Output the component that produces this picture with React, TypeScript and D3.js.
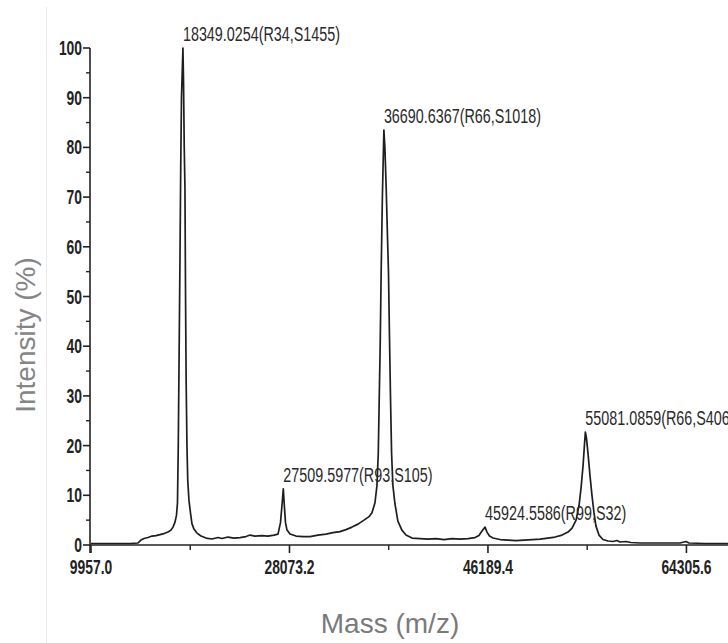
import React from "react";
import * as d3 from "d3";

// Deconvoluted mass spectrum: mass (Da) vs relative intensity (%)
const massValues = [
  9957, 11691, 13517, 14247, 14521, 14794, 15160, 15525, 15890, 16255, 16620, 16985, 17259, 17441,
  17624, 17760, 17851, 17924, 18006, 18080, 18143, 18216, 18349, 18404, 18468, 18532, 18587, 18642,
  18715, 18788, 18897, 19034, 19171, 19354, 19632, 19997, 20453, 21001, 21548, 21913, 22461, 23009,
  23556, 24104, 24469, 24926, 25564, 26112, 26660, 27025, 27253, 27390, 27510, 27601, 27710, 27847,
  28121, 28668, 29307, 29946, 30676, 31406, 32045, 32683, 33231, 33779, 34327, 34875, 35331, 35604,
  35878, 36060, 36179, 36270, 36352, 36443, 36553, 36691, 36782, 36900, 37019, 37110, 37201, 37292,
  37393, 37511, 37694, 37968, 38333, 38708, 39255, 39985, 40715, 41445, 42175, 42906, 43636, 44366,
  45005, 45370, 45644, 45925, 46102, 46330, 46650, 47295, 48025, 48755, 49486, 50216, 50946, 51667,
  52315, 52954, 53502, 53867, 54232, 54506, 54688, 54871, 55008, 55081, 55182, 55319, 55501, 55684,
  55867, 56049, 56323, 56688, 57144, 57600, 57965, 58239, 58787, 59243, 60064, 61890, 63716, 64264,
  64537, 65997, 68097,
];

const intensityValues = [
  0.3, 0.3, 0.3, 0.4, 1.0, 1.3, 1.5, 1.8, 1.9, 2.1, 2.3, 2.6, 3.0, 3.6,
  4.6, 6.0, 8.5, 20, 40, 58, 75, 90, 100, 93, 80, 72, 50, 33,
  20, 13, 9, 6.5, 4.3, 3.2, 2.4, 1.8, 1.4, 1.2, 1.5, 1.3, 1.6, 1.4,
  1.5, 1.7, 2.0, 1.8, 1.9, 1.8, 2.0, 2.2, 4.5, 8, 11.3, 8.0, 4.5, 3.0,
  2.2, 1.8, 1.7, 1.7, 2.0, 2.2, 2.5, 2.7, 3.1, 3.6, 4.2, 5.0, 5.7, 6.5,
  8.5, 12, 18.5, 30, 40, 55, 70, 83.5, 80, 72, 62, 55, 42, 30,
  18.5, 12, 8.4, 4.8, 3.0, 2.0, 1.4, 1.3, 1.2, 1.3, 1.1, 1.3, 1.2, 1.3,
  1.5, 1.9, 2.8, 3.6, 2.6, 1.8, 1.4, 1.1, 1.0, 0.9, 1.0, 1.1, 1.2, 1.4,
  1.6, 2.0, 2.6, 3.4, 5.0, 8.0, 11.5, 16, 20.5, 22.7, 21.5, 18.5, 14, 10,
  6.5, 3.8, 2.0, 1.1, 0.8, 0.7, 0.9, 0.6, 0.7, 0.5, 0.4, 0.4, 0.4, 0.7,
  0.4, 0.3, 0.3,
];

// Annotated peaks
const peakMasses = [18349.0254, 27509.5977, 36690.6367, 45924.5586, 55081.0859];
const peakIntensities = [100, 11.3, 83.5, 3.6, 22.7];
const peakLabels = [
  "18349.0254(R34,S1455)",
  "27509.5977(R93,S105)",
  "36690.6367(R66,S1018)",
  "45924.5586(R99,S32)",
  "55081.0859(R66,S406)",
];

// Axis ticks
const xTickValues = [9957.0, 28073.2, 46189.4, 64305.6];
const xMinorTickValues = [19015.1, 37131.3, 55247.5];
const yTickValues = [0, 10, 20, 30, 40, 50, 60, 70, 80, 90, 100];
const yMinorTickValues = [5, 15, 25, 35, 45, 55, 65, 75, 85, 95];

const W = 728;
const H = 643;

export default function App() {
  const x = d3.scaleLinear().domain([9957, 68100]).range([91, 728]);
  const y = d3.scaleLinear().domain([0, 100]).range([545, 48]);

  const points = massValues.map((m, i) => [m, intensityValues[i]] as [number, number]);
  const line = d3
    .line<[number, number]>()
    .x((d) => x(d[0]))
    .y((d) => y(d[1]))
    .curve(d3.curveLinear);

  const axisColor = "#222";
  const font = "'Liberation Sans', Arial, sans-serif";
  const narrow = 0.66;

  return (
    <svg
      width={W}
      height={H}
      viewBox={`0 0 ${W} ${H}`}
      style={{ position: "absolute", left: 0, top: 0, background: "#fff" }}
    >
      <rect x={0} y={0} width={W} height={H} fill="#fff" />
      {/* faint frame edge on the left */}
      <line x1={46.5} x2={46.5} y1={7} y2={H} stroke="#ebebeb" strokeWidth={1} />

      {/* spectrum trace */}
      <path d={line(points) || ""} fill="none" stroke="#1e1e1e" strokeWidth={1.7} strokeLinejoin="round" />

      {/* y axis */}
      <line x1={90} x2={90} y1={y(100)} y2={y(0) + 8} stroke={axisColor} strokeWidth={1.6} />
      {yTickValues.map((t) => (
        <g key={`yt${t}`}>
          <line x1={83} x2={90} y1={y(t)} y2={y(t)} stroke={axisColor} strokeWidth={1.6} />
          <text
            transform={`translate(82,${y(t) + 7}) scale(${narrow},1)`}
            textAnchor="end"
            fontFamily={font}
            fontWeight="bold"
            fontSize={21}
            fill="#222"
          >
            {t}
          </text>
        </g>
      ))}
      {yMinorTickValues.map((t) => (
        <line key={`ym${t}`} x1={86} x2={90} y1={y(t)} y2={y(t)} stroke={axisColor} strokeWidth={1.4} />
      ))}

      {/* x axis */}
      <line x1={90} x2={728} y1={y(0)} y2={y(0)} stroke={axisColor} strokeWidth={1.6} />
      {xTickValues.map((t) => (
        <g key={`xt${t}`}>
          <line x1={x(t)} x2={x(t)} y1={y(0)} y2={y(0) + 8} stroke={axisColor} strokeWidth={1.6} />
          <text
            transform={`translate(${x(t)},574) scale(${narrow},1)`}
            textAnchor="middle"
            fontFamily={font}
            fontWeight="bold"
            fontSize={21}
            fill="#222"
          >
            {t.toFixed(1)}
          </text>
        </g>
      ))}
      {xMinorTickValues.map((t) => (
        <line key={`xm${t}`} x1={x(t)} x2={x(t)} y1={y(0)} y2={y(0) + 5} stroke={axisColor} strokeWidth={1.4} />
      ))}

      {/* peak annotations */}
      {peakLabels.map((lab, i) => (
        <text
          key={lab}
          transform={`translate(${x(peakMasses[i])},${y(peakIntensities[i]) - 7}) scale(0.7,1)`}
          fontFamily={font}
          fontSize={20.5}
          fill="#2a2a2a"
        >
          {lab}
        </text>
      ))}

      {/* axis titles */}
      <text
        transform={`translate(35,335) rotate(-90)`}
        textAnchor="middle"
        fontFamily={font}
        fontSize={28}
        fill="#858585"
      >
        Intensity (%)
      </text>
      <text x={390} y={633} textAnchor="middle" fontFamily={font} fontSize={28} fill="#7a7a7a">
        Mass (m/z)
      </text>
    </svg>
  );
}
